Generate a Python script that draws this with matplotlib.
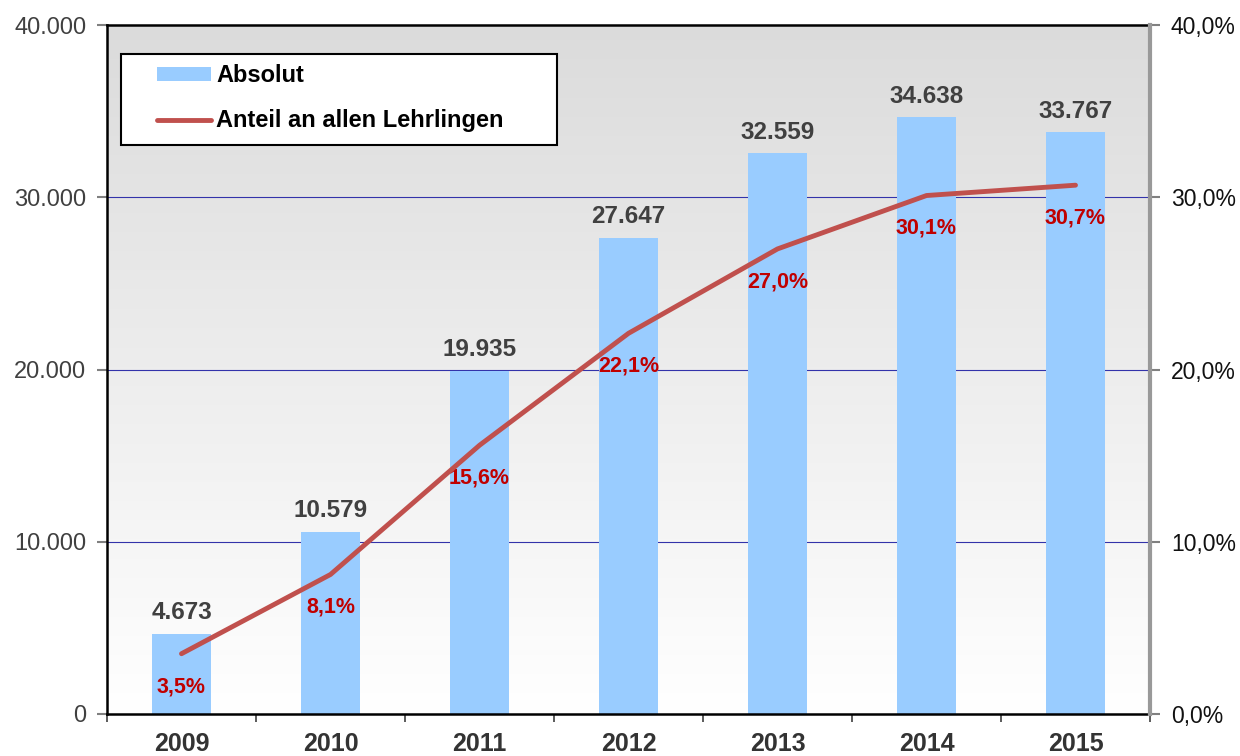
import numpy as np
import matplotlib.pyplot as plt
from matplotlib.patches import Rectangle
from matplotlib.ticker import FuncFormatter, FixedLocator

plt.rcParams['font.family'] = ['Liberation Sans', 'DejaVu Sans']

# Daten
jahre = ['2009', '2010', '2011', '2012', '2013', '2014', '2015']
absolut = [4673, 10579, 19935, 27647, 32559, 34638, 33767]
anteil = [3.5, 8.1, 15.6, 22.1, 27.0, 30.1, 30.7]

x = np.arange(len(jahre))

fig = plt.figure(figsize=(12.4, 7.56), dpi=100)
ax = fig.add_axes([107 / 1240, 1 - 714 / 756, 1043 / 1240, 689 / 756])
ax2 = ax.twinx()

# Hintergrund mit Verlauf (grau oben, weiss unten)
t = np.linspace(0, 1, 256)
grau = 0.86 + (1.0 - 0.86) * t
grad = np.dstack([grau, grau, grau]).reshape(256, 1, 3)
ax.imshow(grad, extent=[-0.5, 6.5, 0, 40000], aspect='auto', origin='upper', zorder=0)

# Gitterlinien
for g in [10000, 20000, 30000]:
    ax.axhline(g, color='#3333AA', linewidth=0.8, zorder=1)

bars = ax.bar(x, absolut, width=0.4, color='#99CCFF', zorder=2, label='Absolut')
ax.set_xlim(-0.5, 6.5)
ax.set_ylim(0, 40000)

for xi, v in zip(x, absolut):
    ax.text(xi, v + 550, f'{v:,}'.replace(',', '.'), ha='center', va='bottom',
            fontsize=17.5, fontweight='bold', color='#404040', zorder=5)

line, = ax2.plot(x, anteil, color='#C0504D', linewidth=3.5, solid_capstyle='round',
                 label='Anteil an allen Lehrlingen', zorder=4)
ax2.set_ylim(0, 40)
for xi, v in zip(x, anteil):
    ax2.text(xi, v - 1.3, f'{v:.1f}%'.replace('.', ','), ha='center', va='top',
             fontsize=15.5, fontweight='bold', color='#C00000')

# Achsen
ax.yaxis.set_major_locator(FixedLocator([0, 10000, 20000, 30000, 40000]))
ax.yaxis.set_major_formatter(FuncFormatter(lambda v, p: f'{int(v):,}'.replace(',', '.')))
ax2.yaxis.set_major_locator(FixedLocator([0, 10, 20, 30, 40]))
ax2.yaxis.set_major_formatter(FuncFormatter(lambda v, p: f'{v:.1f}%'.replace('.', ',')))

ax.set_xticks(x)
ax.set_xticklabels(jahre, fontsize=18, fontweight='bold', color='#333333')
ax.set_xticks(np.arange(-0.5, 7, 1), minor=True)
ax.tick_params(axis='x', which='major', length=0, pad=13)
ax.tick_params(axis='x', which='minor', length=6, color='#404040', width=1.2)
ax.tick_params(axis='y', labelsize=17, labelcolor='#404040', length=7, color='#808080', width=1.5, pad=8)
ax2.tick_params(axis='y', labelsize=16.5, labelcolor='#111111', length=7, color='#808080', width=1.5, pad=8)

for s in ['left', 'top', 'bottom']:
    ax.spines[s].set_linewidth(1.8)
    ax.spines[s].set_color('black')
ax2.spines['right'].set_color('#999999')
ax2.spines['right'].set_linewidth(3)
for s in ['left', 'top', 'bottom']:
    ax2.spines[s].set_visible(False)

# Legende mit eigenem Rahmen
ax2.add_patch(Rectangle((14 / 1043, 1 - 120 / 689), 436 / 1043, 91 / 689,
                        transform=ax2.transAxes, facecolor='white', edgecolor='black',
                        linewidth=1.5, zorder=6))
leg = ax2.legend([bars, line], ['Absolut', 'Anteil an allen Lehrlingen'],
                 loc='upper left', bbox_to_anchor=(50 / 1043, 1 - 39 / 689),
                 frameon=False, prop={'weight': 'bold', 'size': 17},
                 handlelength=2.3, handletextpad=0.2, borderaxespad=0, borderpad=0,
                 labelspacing=0.95, handleheight=0.55)
leg.set_zorder(7)

fig.savefig('out.png', dpi=100)
